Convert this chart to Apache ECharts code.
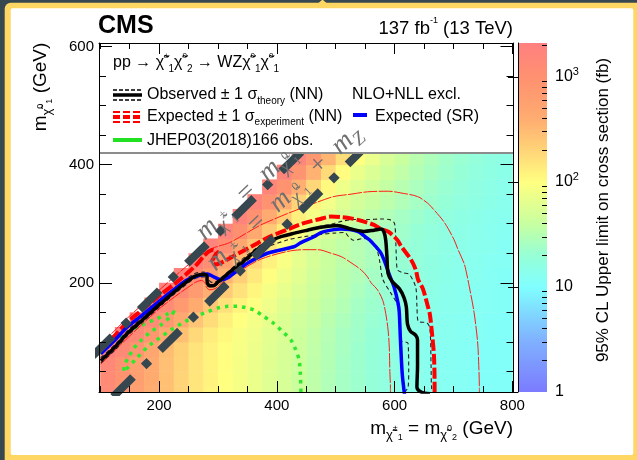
<!DOCTYPE html>
<html>
<head>
<meta charset="utf-8">
<title>WZ exclusion limits</title>
<script src="https://cdn.jsdelivr.net/npm/echarts@6.0.0/dist/echarts.min.js"></script>
<style>
  html, body { margin: 0; padding: 0; background: #37474f; }
  #chart { width: 637px; height: 460px; }
</style>
</head>
<body>
<div id="chart"></div>
<script>
// ---- limit cells: centres in GeV (25 GeV cells) ----
const xCenters = [112.5, 137.5, 162.5, 187.5, 212.5, 237.5, 262.5, 287.5, 312.5, 337.5, 362.5, 387.5, 412.5, 437.5,
                  462.5, 487.5, 512.5, 537.5, 562.5, 587.5, 612.5, 637.5, 662.5, 687.5, 712.5, 737.5, 762.5, 787.5];
const yCenters = [12.5, 37.5, 62.5, 87.5, 112.5, 137.5, 162.5, 187.5, 212.5, 237.5, 262.5, 287.5, 312.5, 337.5, 362.5, 387.5, 412.5];

// 95% CL upper limit on the cross section (fb); one row per yCenter, null above the diagonal
const limitRows = [
  [1300, 900, 600, 400, 280, 200, 150, 120, 100, 85, 72, 60, 50, 42, 35, 29, 25, 22, 19, 17, 15, 14, 13, 12.5, 12, 11.5, 11, 11],
  [1350, 920, 610, 405, 282, 202, 151, 121, 100, 85, 72, 60, 50, 42, 35, 29, 25, 22, 19, 17, 15, 14, 13, 12.5, 12, 11.5, 11, 11],
  [1450, 950, 620, 410, 285, 205, 153, 122, 101, 86, 73, 61, 51, 43, 35, 30, 25, 22, 19, 17, 15, 14, 13, 12.5, 12, 11.5, 11, 11],
  [2000, 1400, 850, 480, 300, 210, 155, 124, 102, 87, 74, 62, 52, 43, 36, 30, 26, 22, 19.5, 17, 15.5, 14, 13, 12.5, 12, 11.5, 11, 11],
  [null, 2000, 1400, 820, 460, 280, 185, 135, 108, 90, 76, 63, 53, 44, 37, 31, 26, 23, 20, 17.5, 16, 14.5, 13.5, 13, 12.5, 12, 11.5, 11],
  [null, null, 1950, 1350, 780, 440, 265, 175, 130, 100, 82, 68, 56, 46, 39, 33, 28, 24, 21, 18.5, 16.5, 15, 14, 13, 12.5, 12, 11.5, 11],
  [null, null, null, 1900, 1300, 740, 410, 250, 165, 122, 95, 76, 61, 50, 42, 35, 30, 25, 22, 19.5, 17.5, 15.5, 14.5, 13.5, 13, 12.5, 12, 11.5],
  [null, null, null, null, 1900, 1250, 700, 380, 235, 160, 115, 86, 68, 55, 45, 38, 32, 27, 23, 20.5, 18, 16.5, 15, 14, 13, 12.5, 12, 11.5],
  [null, null, null, null, null, 1850, 1200, 660, 350, 215, 145, 102, 78, 62, 48, 40, 33, 29, 25, 22, 19.5, 17.5, 16, 14.5, 13.5, 13, 12, 11.5],
  [null, null, null, null, null, null, 1850, 1150, 600, 310, 190, 125, 90, 66, 50, 41, 34.5, 31, 27, 23, 20.5, 18.5, 16.5, 15, 14, 13, 12.5, 12],
  [null, null, null, null, null, null, null, 1800, 1100, 480, 260, 150, 95, 64, 51, 42, 36, 31, 27, 24, 21, 19, 17, 15.5, 14.5, 13.5, 13, 12],
  [null, null, null, null, null, null, null, null, 1800, 1050, 450, 240, 140, 90, 65, 50, 41, 35, 30, 26, 23, 20, 18, 16.5, 15, 14, 13, 12.5],
  [null, null, null, null, null, null, null, null, null, 1750, 1000, 420, 220, 130, 85, 62, 48, 40, 34, 29, 25, 22, 19.5, 17.5, 16, 14.5, 13.5, 13],
  [null, null, null, null, null, null, null, null, null, null, 1700, 950, 400, 200, 120, 80, 60, 48, 40, 34, 29, 25, 22, 19.5, 17.5, 16, 14.5, 13.5],
  [null, null, null, null, null, null, null, null, null, null, null, 1700, 900, 380, 190, 110, 75, 57, 46, 38, 32, 27, 23.5, 21, 18.5, 16.5, 15, 14],
  [null, null, null, null, null, null, null, null, null, null, null, null, 1650, 850, 360, 180, 105, 72, 55, 44, 36, 30, 26, 22.5, 20, 17.5, 16, 14.5],
  [null, null, null, null, null, null, null, null, null, null, null, null, null, 1600, 800, 340, 170, 100, 70, 52, 41, 33, 28, 24, 21, 18.5, 16.5, 15]
];

// ---- axis ticks ----
const xTicksMajor = [200, 400, 600, 800];
const xTicksMinor = [100, 150, 250, 300, 350, 450, 500, 550, 650, 700, 750];
const yTicksMajor = [200, 400, 600];
const yTicksMinor = [50, 100, 150, 250, 300, 350, 450, 500, 550];
const zTicksMajor = [1, 10, 100, 1000];
const zTicksMinor = [2, 3, 4, 5, 6, 7, 8, 9, 20, 30, 40, 50, 60, 70, 80, 90, 200, 300, 400, 500, 600, 700, 800, 900, 2000];
const zRange = [1, 2095];

// ---- exclusion contours, [m(chargino), m(LSP)] in GeV ----
const observed = [[101, 68], [125, 91], [146, 114], [175, 140], [203, 165], [230, 188], [259, 210], [272, 214], [281, 213],
  [282, 200], [286, 195], [292, 195], [300, 201], [306, 206], [320, 218], [339, 233], [356, 247], [373, 261], [390, 271],
  [407, 278], [430, 284], [452, 289], [475, 294], [503, 297], [526, 291], [548, 287], [565, 289], [577, 291], [582, 286],
  [585, 272], [587, 245], [589, 216], [596, 202], [608, 190], [616, 175], [620, 159], [622, 130], [627, 118], [636, 111],
  [639, 103], [639, 60], [638, 23], [645, 15], [660, 12]];
const observedUp = [[101, 73], [125, 95], [146, 118], [175, 145], [203, 170], [230, 193], [259, 215], [276, 218], [283, 216],
  [286, 203], [292, 200], [305, 208], [339, 238], [373, 264], [390, 272], [420, 282], [446, 287], [475, 296], [492, 299],
  [510, 304], [530, 307], [555, 307], [577, 308], [594, 306], [600, 300], [602, 270], [603, 244], [605, 222], [614, 217],
  [625, 214], [636, 192], [638, 160], [640, 135], [655, 132], [660, 123], [662, 60], [663, 21], [667, 14]];
const observedDown = [[101, 64], [125, 86], [146, 110], [175, 136], [203, 161], [230, 184], [259, 206], [275, 210], [281, 209],
  [283, 195], [290, 193], [304, 201], [339, 229], [373, 256], [384, 261], [420, 273], [446, 278], [475, 282], [497, 284],
  [515, 285], [522, 278], [530, 272], [548, 275], [562, 270], [570, 256], [575, 235], [580, 206], [594, 182], [604, 165],
  [608, 150], [610, 103], [623, 97], [624, 50], [623, 23], [617, 15]];
const expected = [[101, 88], [125, 111], [146, 133], [175, 157], [203, 180], [230, 201], [250, 218], [265, 232], [275, 244],
  [283, 252], [292, 256], [298, 253], [294, 244], [290, 236], [296, 231], [310, 236], [330, 247], [360, 263], [384, 276],
  [420, 291], [446, 301], [470, 307], [492, 312], [509, 311], [526, 309], [543, 305], [565, 298], [577, 291], [590, 286],
  [605, 272], [611, 262], [628, 239], [636, 222], [640, 205], [648, 190], [656, 162], [660, 146], [664, 110], [667, 75],
  [668, 21], [668, 10]];
const expectedUp = [[101, 95], [146, 140], [203, 190], [259, 238], [290, 258], [320, 268], [350, 285], [373, 298], [420, 318],
  [441, 326], [470, 337], [497, 346], [526, 350], [554, 354], [590, 355], [611, 352], [639, 346], [656, 335], [662, 329],
  [684, 303], [701, 273], [707, 258], [718, 233], [721, 222], [727, 193], [735, 150], [741, 100], [743, 60], [744, 21], [744, 8]];
const expectedDown = [[101, 62], [146, 106], [203, 158], [259, 199], [272, 204], [278, 200], [280, 193], [286, 188], [295, 190],
  [303, 197], [315, 206], [340, 222], [373, 240], [418, 253], [446, 256], [470, 256], [492, 250], [510, 244], [526, 234],
  [543, 222], [554, 210], [560, 200], [571, 188], [580, 170], [585, 148], [589, 120], [591, 91], [592, 50], [593, 21], [593, 8]];
const expectedSR = [[101, 80], [125, 103], [146, 125], [175, 148], [203, 171], [230, 192], [248, 205], [271, 213], [282, 215],
  [293, 210], [305, 205], [318, 209], [327, 216], [350, 233], [384, 250], [429, 261], [441, 268], [463, 278], [475, 285],
  [497, 290], [509, 291], [537, 287], [554, 275], [560, 270], [577, 250], [591, 214], [600, 190], [606, 165], [608, 150],
  [610, 103], [613, 46], [616, 18], [617, 10]];
const jhepObserved = [[100, 80], [125, 103], [146, 116], [170, 128], [191, 137], [212, 146], [225, 151], [220, 143], [205, 130],
  [186, 117], [170, 103], [157, 89], [147, 72], [140, 57], [140, 49], [160, 70], [180, 91], [200, 106], [220, 120], [240, 132],
  [260, 142], [280, 150], [299, 157], [317, 160], [333, 160], [347, 158], [361, 154], [378, 143], [395, 131], [410, 117],
  [424, 103], [432, 87], [438, 69], [440, 45], [441, 15]];
// kinematic boundaries
const lineEqualMass = [[87, 76], [450, 430]];
const lineZMass = [[122, 7], [544, 424]];

// ---- colour palette on log10(limit) ----
const paletteStops = [
  [0.0, [123, 123, 255]],
  [0.5, [128, 178, 255]],
  [1.0, [128, 255, 255]],
  [1.3, [150, 255, 214]],
  [1.6, [200, 255, 160]],
  [2.0, [255, 255, 128]],
  [2.3, [255, 212, 120]],
  [2.6, [255, 172, 112]],
  [3.0, [255, 144, 112]],
  [3.33, [255, 128, 128]]
];
function paletteColor(lg) {
  const s = paletteStops;
  let rgb = s[s.length - 1][1];
  if (lg <= s[0][0]) rgb = s[0][1];
  else {
    for (let i = 1; i < s.length; i++) {
      if (lg <= s[i][0]) {
        const t = (lg - s[i - 1][0]) / (s[i][0] - s[i - 1][0]);
        rgb = s[i - 1][1].map((c, k) => Math.round(c + t * (s[i][1][k] - c)));
        break;
      }
    }
  }
  return 'rgb(' + rgb.join(',') + ')';
}

const SANS = '"Liberation Sans", Arial, Helvetica, sans-serif';
const SERIF = '"Liberation Serif", "Times New Roman", serif';

const cellData = [];
limitRows.forEach((row, r) => row.forEach((v, c) => {
  if (v != null) cellData.push([xCenters[c], yCenters[r], Math.log10(v)]);
}));
const halfW = (xCenters[1] - xCenters[0]) / 2;
const halfH = (yCenters[1] - yCenters[0]) / 2;

const chart = echarts.init(document.getElementById('chart'), null, { renderer: 'canvas', width: 637, height: 460 });

const black = '#000';
function frameAxis(dim, position, values, len, withLabels, showLine, range) {
  return {
    type: 'value', gridIndex: 0, position, min: range[0], max: range[1], z: 20,
    axisLine: { show: showLine, onZero: false, lineStyle: { color: black, width: 1 } },
    axisTick: { show: true, inside: true, length: len, customValues: values, lineStyle: { color: black, width: 1 } },
    axisLabel: withLabels
      ? { show: true, customValues: values, color: black, fontSize: 15, fontFamily: SANS, margin: dim === 'x' ? 6 : 5 }
      : { show: false },
    splitLine: { show: false }
  };
}
const xRange = [98, 802];
const yRange = [15, 606];

function lineSeries(data, color, width, type, z, smooth) {
  return {
    type: 'line', data, xAxisIndex: 0, yAxisIndex: 0, symbol: 'none', showSymbol: false, silent: true,
    smooth: smooth === undefined ? 0.3 : smooth, clip: true, z: z || 3, animation: false,
    lineStyle: { color, width, type: type || 'solid', cap: 'butt', join: 'round' }
  };
}

// colour-bar gradient
const lgMax = Math.log10(zRange[1]);
const gradStops = [];
for (let i = 0; i <= 40; i++) {
  const lg = lgMax * i / 40;
  gradStops.push({ offset: 1 - i / 40, color: paletteColor(lg) });
}
gradStops.sort((a, b) => a.offset - b.offset);

function txt(x, y, text, o) {
  o = o || {};
  return {
    type: 'text', x, y, z: o.z || 30, silent: true, rotation: o.rotation || 0,
    style: {
      text, fill: o.color || black,
      fontSize: o.size || 16, fontFamily: o.family || SANS, fontWeight: o.weight || 'normal', fontStyle: o.style || 'normal',
      align: o.align || 'left', verticalAlign: 'middle', textAlign: o.align || 'left', textVerticalAlign: 'middle',
      lineHeight: o.lineHeight || 22,
      rich: o.rich || {}
    }
  };
}
function richSet(size, color, family, italic, subScale) {
  const c = color || black, f = family || SANS, st = italic ? 'italic' : 'normal';
  const k = subScale || 0.66;
  return {
    n: { fontSize: size, fontFamily: f, fontStyle: st, fill: c, color: c, lineHeight: Math.round(size * 1.35), verticalAlign: 'middle' },
    c: { fontSize: Math.round(size * k), fontFamily: f, fontStyle: st, fill: c, color: c, lineHeight: Math.round(size * 0.7), verticalAlign: 'bottom' },
    sp: { fontSize: Math.round(size * 0.5), fontFamily: f, fill: c, color: c, lineHeight: Math.round(size * 0.9), verticalAlign: 'top' },
    sb: { fontSize: Math.round(size * 0.6), fontFamily: f, fill: c, color: c, lineHeight: Math.round(size * 0.6), verticalAlign: 'bottom' },
    smid: { fontSize: Math.round(size * 0.45), fontFamily: f, fill: c, color: c, lineHeight: Math.round(size * 0.8), verticalAlign: 'middle' },
    ssub: { fontSize: Math.round(size * 0.45), fontFamily: f, fill: c, color: c, lineHeight: Math.round(size * 0.45), verticalAlign: 'bottom' },
    gap: { fontSize: size, fontFamily: f, fill: c, color: c, lineHeight: Math.round(size * 1.35), verticalAlign: 'middle' }
  };
}
const CHI = 'χ\u0303';

const legendRich = richSet(16);
const diagRich = richSet(27, '#707070', SERIF, true, 0.72);
const titleRich = richSet(19);

const graphics = [
  // page frame
  { type: 'rect', z: -10, silent: true, shape: { x: 4.7, y: 2.7, width: 640, height: 470, r: 6 }, style: { fill: '#fdd663' } },
  { type: 'polygon', z: -10, silent: true, shape: { points: [[318.5, 3], [322.5, -0.5], [326.5, 3]] }, style: { fill: '#fdd663' } },
  { type: 'rect', z: -9, silent: true, shape: { x: 10.7, y: 8.3, width: 622.6, height: 446.7, r: 2 }, style: { fill: '#fff' } },
  // colour bar
  { type: 'rect', z: 1, silent: true, shape: { x: 518, y: 43, width: 29, height: 349 },
    style: { fill: { type: 'linear', x: 0, y: 0, x2: 0, y2: 1, colorStops: gradStops } } },
  // legend panel
  { type: 'rect', z: 5, silent: true, shape: { x: 99.5, y: 43.5, width: 413.5, height: 109.5 }, style: { fill: '#fff' } },
  { type: 'line', z: 6, silent: true, shape: { x1: 99, y1: 153, x2: 513.5, y2: 153 }, style: { stroke: '#8c8c8c', lineWidth: 2 } },
  // legend symbols
  { type: 'line', z: 7, silent: true, shape: { x1: 113, y1: 90, x2: 142, y2: 90 }, style: { stroke: black, lineWidth: 1.3, lineDash: [4, 2] } },
  { type: 'line', z: 7, silent: true, shape: { x1: 113, y1: 95, x2: 142, y2: 95 }, style: { stroke: black, lineWidth: 3.5 } },
  { type: 'line', z: 7, silent: true, shape: { x1: 113, y1: 100, x2: 142, y2: 100 }, style: { stroke: black, lineWidth: 1.3, lineDash: [4, 2] } },
  { type: 'line', z: 7, silent: true, shape: { x1: 113, y1: 112, x2: 142, y2: 112 }, style: { stroke: '#ff0000', lineWidth: 2, lineDash: [7, 3] } },
  { type: 'line', z: 7, silent: true, shape: { x1: 113, y1: 117, x2: 142, y2: 117 }, style: { stroke: '#ff0000', lineWidth: 4, lineDash: [7, 3] } },
  { type: 'line', z: 7, silent: true, shape: { x1: 113, y1: 122, x2: 142, y2: 122 }, style: { stroke: '#ff0000', lineWidth: 2, lineDash: [7, 3] } },
  { type: 'line', z: 7, silent: true, shape: { x1: 113, y1: 140, x2: 142, y2: 140 }, style: { stroke: '#22e022', lineWidth: 4 } },
  { type: 'line', z: 7, silent: true, shape: { x1: 353, y1: 115, x2: 367, y2: 115 }, style: { stroke: '#0000ff', lineWidth: 4 } },
  // legend text
  txt(113, 63, '{n|pp → ' + CHI + '}{sp|±}{sb|1}{n|' + CHI + '}{sp|0}{sb|2}{n| → WZ' + CHI + '}{sp|0}{sb|1}{n|' + CHI + '}{sp|0}{sb|1}', { rich: legendRich }),
  txt(147, 95, '{n|Observed ± 1 σ}{sb|theory}{n| (NN)}', { rich: legendRich }),
  txt(352, 95, '{n|NLO+NLL excl.}', { rich: legendRich }),
  txt(147, 116.5, '{n|Expected ± 1 σ}{sb|experiment}{n| (NN)}', { rich: legendRich }),
  txt(375, 116.5, '{n|Expected (SR)}', { rich: legendRich }),
  txt(147, 140.5, '{n|JHEP03(2018)166 obs.}', { rich: legendRich }),
  // header
  txt(98, 26, 'CMS', { size: 25, weight: 'bold', lineHeight: 30 }),
  txt(513, 28.5, '{n|137 fb}{sp|-1}{n| (13 TeV)}', { align: 'right', rich: richSet(18.5) }),
  // kinematic boundary labels
  txt(246, 193, '{n|m}{c|' + CHI + '}{smid|±}{ssub|1}{n|  =  m}{c|' + CHI + '}{smid|0}{ssub|1}',
    { rich: diagRich, rotation: 43 * Math.PI / 180, align: 'center', z: 8 }),
  txt(284, 198, '{n|m}{c|' + CHI + '}{smid|±}{ssub|1}{n|  =  m}{c|' + CHI + '}{smid|0}{ssub|1}{n|  +  m}{c|Z}',
    { rich: diagRich, rotation: 43 * Math.PI / 180, align: 'center', z: 8 }),
  // axis titles
  txt(41, 87, '{n|m}{c|' + CHI + '}{smid|0}{ssub|1}{n| (GeV)}', { rich: titleRich, rotation: Math.PI / 2, align: 'center' }),
  txt(513, 429, '{n|m}{c|' + CHI + '}{smid|±}{ssub|1}{n| = m}{c|' + CHI + '}{smid|0}{ssub|2}{n| (GeV)}', { rich: titleRich, align: 'right' }),
  txt(603, 210, '95% CL Upper limit on cross section (fb)', { size: 17, rotation: Math.PI / 2, align: 'center' })
];

const option = {
  backgroundColor: '#37474f',
  animation: false,
  grid: [
    { left: 99, top: 43, right: 123.5, bottom: 68, containLabel: false },
    { left: 518, top: 43, width: 29, height: 349, containLabel: false }
  ],
  xAxis: [
    frameAxis('x', 'bottom', xTicksMajor, 11, true, true, xRange),
    frameAxis('x', 'bottom', xTicksMinor, 6, false, false, xRange),
    frameAxis('x', 'top', xTicksMajor, 11, false, true, xRange),
    frameAxis('x', 'top', xTicksMinor, 6, false, false, xRange),
    { type: 'value', gridIndex: 1, show: false, min: 0, max: 1 }
  ],
  yAxis: [
    frameAxis('y', 'left', yTicksMajor, 13, true, true, yRange),
    frameAxis('y', 'left', yTicksMinor, 7, false, false, yRange),
    frameAxis('y', 'right', yTicksMajor, 13, false, true, yRange),
    frameAxis('y', 'right', yTicksMinor, 7, false, false, yRange),
    {
      type: 'log', logBase: 10, gridIndex: 1, position: 'right', min: zRange[0], max: zRange[1], z: 20,
      axisLine: { show: true, lineStyle: { color: black, width: 1 } },
      axisTick: { show: true, inside: true, length: 10, customValues: zTicksMajor, lineStyle: { color: black } },
      axisLabel: {
        show: true, customValues: zTicksMajor, margin: 8, color: black, fontSize: 16, fontFamily: SANS, lineHeight: 20,
        formatter: v => {
          const p = Math.round(Math.log10(v));
          return p < 2 ? String(Math.round(v)) : '10{sp|' + p + '}';
        },
        rich: { sp: { fontSize: 11, fontFamily: SANS, color: black, lineHeight: 12, verticalAlign: 'top' } }
      },
      splitLine: { show: false }
    },
    {
      type: 'log', logBase: 10, gridIndex: 1, position: 'right', min: zRange[0], max: zRange[1], z: 20,
      axisLine: { show: false },
      axisTick: { show: true, inside: true, length: 5, customValues: zTicksMinor, lineStyle: { color: black } },
      axisLabel: { show: false },
      splitLine: { show: false }
    }
  ],
  series: [
    {
      type: 'custom', xAxisIndex: 0, yAxisIndex: 0, data: cellData, z: 1, silent: true, animation: false,
      encode: { x: 0, y: 1 },
      renderItem: (params, api) => {
        const x = api.value(0), y = api.value(1), lg = api.value(2);
        const p1 = api.coord([x - halfW, y + halfH]);
        const p2 = api.coord([x + halfW, y - halfH]);
        const cs = params.coordSys;
        const shape = echarts.graphic.clipRectByRect(
          { x: p1[0], y: p1[1], width: p2[0] - p1[0] + 0.5, height: p2[1] - p1[1] + 0.5 },
          { x: cs.x, y: cs.y, width: cs.width, height: cs.height });
        if (!shape) return null;
        return { type: 'rect', shape, style: { fill: paletteColor(lg) } };
      }
    },
    lineSeries(jhepObserved, '#2ee82e', 3.5, [3.5, 5], 3, 0.2),
    lineSeries(expectedUp, '#ff1a1a', 1, [14, 1.5], 3),
    lineSeries(expectedDown, '#ff1a1a', 1, [14, 1.5], 3),
    lineSeries(observedUp, '#222', 1.1, [4, 3], 3),
    lineSeries(observedDown, '#222', 1.1, [4, 3], 3),
    lineSeries(expected, '#ff0000', 4, [11, 3], 3),
    lineSeries(expectedSR, '#0000ff', 3.5, 'solid', 3),
    lineSeries(observed, '#000000', 3.5, 'solid', 3),
    lineSeries(lineEqualMass, '#37474f', 8, [28, 15, 8, 15], 4, false),
    lineSeries(lineZMass, '#37474f', 8, [28, 15, 8, 15], 4, false),
    { type: 'line', xAxisIndex: 4, yAxisIndex: 4, data: [], silent: true }
  ],
  graphic: { elements: graphics }
};
chart.setOption(option);
</script>
</body>
</html>
